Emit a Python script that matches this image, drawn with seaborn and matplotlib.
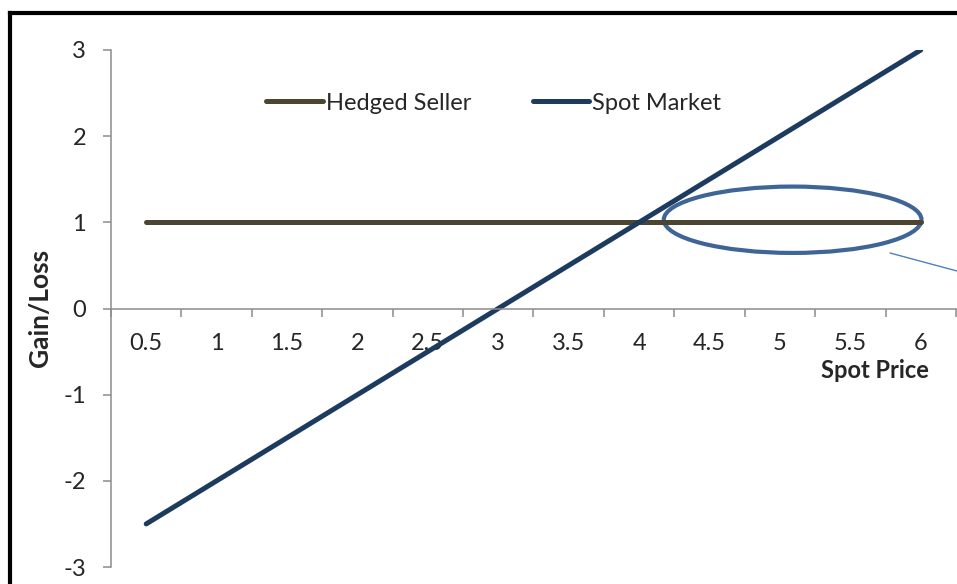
import matplotlib
matplotlib.use("Agg")
import matplotlib.pyplot as plt
from matplotlib.patches import Ellipse
from matplotlib.lines import Line2D
import seaborn as sns
import pandas as pd
import numpy as np

# chart data
spot_price = [0.5, 1, 1.5, 2, 2.5, 3, 3.5, 4, 4.5, 5, 5.5, 6]
hedged_seller = [1, 1, 1, 1, 1, 1, 1, 1, 1, 1, 1, 1]
spot_market = [-2.5, -2, -1.5, -1, -0.5, 0, 0.5, 1, 1.5, 2, 2.5, 3]
series_names = ["Hedged Seller", "Spot Market"]
series_colors = ["#4b4532", "#1d3a5f"]
x_labels = ["0.5", "1", "1.5", "2", "2.5", "3", "3.5", "4", "4.5", "5", "5.5", "6"]
y_ticks = [-3, -2, -1, 0, 1, 2, 3]


def plot_hedge():
    sns.set_theme(style="white")
    plt.rcParams["font.family"] = ["Lato", "DejaVu Sans"]
    plt.rcParams["axes.unicode_minus"] = False

    df = pd.DataFrame({
        "Spot Price": spot_price * 2,
        "Gain/Loss": hedged_seller + spot_market,
        "Series": [series_names[0]] * len(spot_price) + [series_names[1]] * len(spot_price),
    })

    fig = plt.figure(figsize=(9.57, 5.84), dpi=100)
    ax = fig.add_axes([111 / 957, 1 - 567 / 584, 845 / 957, 517 / 584])

    sns.lineplot(data=df, x="Spot Price", y="Gain/Loss", hue="Series",
                 hue_order=series_names, palette=series_colors,
                 linewidth=3.6, solid_capstyle="round", ax=ax, legend=False)

    ax.set_xlim(0.25, 6.25)
    ax.set_ylim(-3, 3)

    # category-style x axis: ticks on boundaries, labels in centers
    ax.set_xticks(np.arange(0.25, 6.26, 0.5))
    ax.set_xticklabels([])
    ax.set_xticks(spot_price, minor=True)
    ax.set_xticklabels(x_labels, minor=True)
    ax.tick_params(axis="x", which="major", bottom=True, direction="out",
                   length=6, color="#8c8c8c", width=1.1)
    ax.tick_params(axis="x", which="minor", bottom=True, length=0, pad=18,
                   labelsize=17)

    ax.set_yticks(y_ticks)
    ax.tick_params(axis="y", left=True, direction="out", length=6,
                   color="#8c8c8c", width=1.1, pad=12, labelsize=17)

    for side in ["top", "right"]:
        ax.spines[side].set_visible(False)
    ax.spines["bottom"].set_position(("data", 0))
    for side in ["left", "bottom"]:
        ax.spines[side].set_color("#8c8c8c")
        ax.spines[side].set_linewidth(1.1)
    ax.set_xlabel("")
    ax.set_ylabel("")

    # highlight ellipse and callout
    ax.add_patch(Ellipse((5.09, 1.03), 1.83, 0.77, fill=False,
                         edgecolor="#3f6596", linewidth=3))
    fig.add_artist(Line2D([890 / 957, 1.0], [1 - 253 / 584, 1 - 271 / 584],
                          color="#4f81bd", linewidth=1))

    # legend
    handles = [Line2D([0], [0], color=c, linewidth=3.6) for c in series_colors]
    ax.legend(handles, series_names, ncol=2, frameon=False, fontsize=17,
              handlelength=2.4, handletextpad=0.13, columnspacing=2.6,
              borderpad=0, borderaxespad=0, loc="center left",
              bbox_to_anchor=(266 / 957, 1 - 103 / 584),
              bbox_transform=fig.transFigure)

    fig.text(40 / 957, 1 - 308 / 584, "Gain/Loss", rotation=90, fontsize=19,
             fontweight="bold", ha="center", va="center")
    fig.text(875 / 957, 1 - 370 / 584, "Spot Price", fontsize=17,
             fontweight="bold", ha="center", va="center")

    # outer frame (cropped at right and bottom)
    fig.add_artist(Line2D([10 / 957, 10 / 957], [0, 1 - 12.5 / 584],
                          color="black", linewidth=3, solid_capstyle="projecting"))
    fig.add_artist(Line2D([10 / 957, 1.0], [1 - 12.5 / 584, 1 - 12.5 / 584],
                          color="black", linewidth=3, solid_capstyle="projecting"))

    fig.savefig("out.png", dpi=100)
    plt.close(fig)


if __name__ == "__main__":
    plot_hedge()
